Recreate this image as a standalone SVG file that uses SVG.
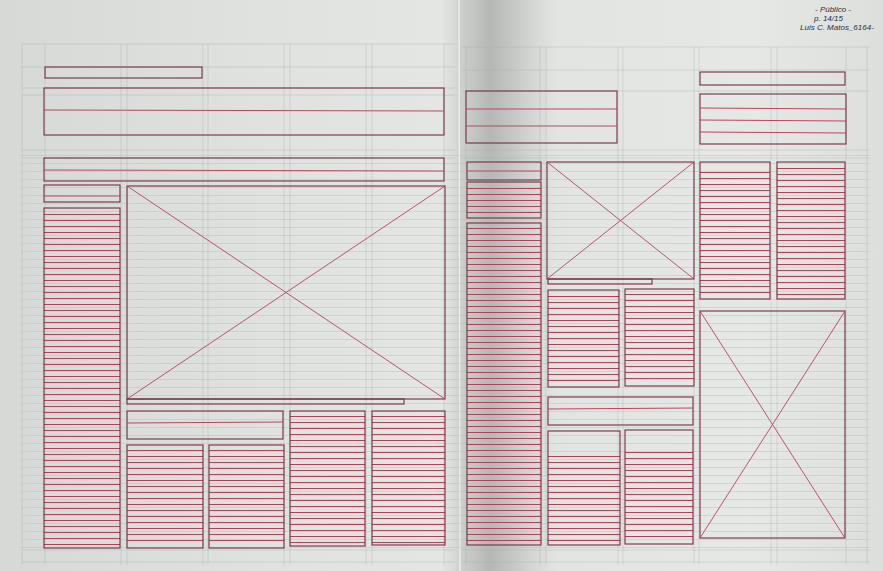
<svg xmlns="http://www.w3.org/2000/svg" width="883" height="571" viewBox="0 0 883 571">
<defs>
<linearGradient id="paper" x1="0" y1="0" x2="1" y2="0">
<stop offset="0" stop-color="#d6d9d6"/>
<stop offset="0.3" stop-color="#dfe2df"/>
<stop offset="0.5" stop-color="#e4e6e4"/>
<stop offset="0.52" stop-color="#d2d5d2"/>
<stop offset="0.6" stop-color="#e2e4e2"/>
<stop offset="0.85" stop-color="#e6e8e6"/>
<stop offset="1" stop-color="#dcdfdc"/>
</linearGradient>
<linearGradient id="fold" x1="0" y1="0" x2="1" y2="0">
<stop offset="0" stop-color="#7e827f" stop-opacity="0"/>
<stop offset="0.35" stop-color="#7e827f" stop-opacity="0.4"/>
<stop offset="1" stop-color="#7e827f" stop-opacity="0"/>
</linearGradient>
<pattern id="rule" width="20" height="8" patternUnits="userSpaceOnUse">
<rect x="0" y="3" width="20" height="1" fill="#b9bebb"/>
</pattern>
<style>
.g{stroke:#a4a9a6;stroke-width:0.6;fill:none;opacity:0.55}
.b{fill:none;stroke:#742f41;stroke-width:1.1}
.l{stroke:#b8485e;stroke-width:1;fill:none}
.tl{stroke:#b04358;stroke-dasharray:1 5;stroke-dashoffset:-5;fill:none}
.x{stroke:#b0485c;stroke-width:0.9}
.h{font-family:"Liberation Sans",sans-serif;font-style:italic;font-size:8px;fill:#2a3040}
</style>
</defs>
<rect width="883" height="571" fill="url(#paper)"/>
<rect x="455" y="0" width="100" height="571" fill="url(#fold)"/>
<line x1="459" y1="0" x2="460" y2="571" stroke="#f2f3f2" stroke-width="1.2"/>
<rect x="22" y="150" width="848" height="400" fill="url(#rule)" opacity="0.45"/>
<g id="guides">
<path class="g" d="M22 44V565M45 44V565M121 44V565M127 44V565M203 44V565M208 44V565M284 44V565M290 44V565M366 44V565M372 44V565M444 44V565"/>
<path class="g" d="M466 47V565M540 47V565M546 47V565M618 47V565M623 47V565M694 47V565M699 47V565M771 47V565M777 47V565M846 47V565M867 47V565"/>
<path class="g" d="M22 44H455M22 67H455M22 88H455M22 95H455M22 150H455M22 158H455M22 550H455M22 562H455"/>
<path class="g" d="M462 47H870M462 70H870M462 91H870M462 150H870M462 158H870M462 550H870M462 562H870"/>
</g>
<g id="left-kicker"><rect class="b" x="45" y="67" width="157" height="11"/></g>
<g id="left-headline"><rect class="b" x="44" y="88" width="400" height="47"/><line class="l" x1="44" y1="110" x2="444" y2="111"/></g>
<g id="left-subhead"><rect class="b" x="44" y="158" width="400" height="23"/><line class="l" x1="44" y1="170" x2="444" y2="171"/></g>
<g id="left-col-head"><rect class="b" x="44" y="185" width="76" height="17"/><line class="l" x1="44" y1="196" x2="120" y2="196"/></g>
<g id="left-col-text"><line class="tl" x1="82" y1="209" x2="82" y2="546" stroke-width="76"/><rect class="b" x="44" y="208" width="76" height="340"/></g>
<g id="left-image"><rect class="b" x="127" y="186" width="318" height="213"/><line class="x" x1="127" y1="186" x2="445" y2="399"/><line class="x" x1="445" y1="186" x2="127" y2="399"/></g>
<g id="left-caption"><rect class="b" x="127" y="399" width="277" height="5"/></g>
<g id="left-story-head"><rect class="b" x="127" y="411" width="156" height="28"/><line class="l" x1="127" y1="423" x2="283" y2="422"/></g>
<g id="left-text-1"><line class="tl" x1="165" y1="445" x2="165" y2="546" stroke-width="76"/><rect class="b" x="127" y="445" width="76" height="103"/></g>
<g id="left-text-2"><line class="tl" x1="246.5" y1="445" x2="246.5" y2="546" stroke-width="75"/><rect class="b" x="209" y="445" width="75" height="103"/></g>
<g id="left-text-3"><line class="tl" x1="327.5" y1="411" x2="327.5" y2="544" stroke-width="75"/><rect class="b" x="290" y="411" width="75" height="135"/></g>
<g id="left-text-4"><line class="tl" x1="408.5" y1="411" x2="408.5" y2="543" stroke-width="73"/><rect class="b" x="372" y="411" width="73" height="134"/></g>
<g id="right-headline"><rect class="b" x="466" y="91" width="151" height="52"/><line class="l" x1="466" y1="109" x2="617" y2="109"/><line class="l" x1="466" y1="126" x2="617" y2="126"/></g>
<g id="right-kicker"><rect class="b" x="700" y="72" width="145" height="13"/></g>
<g id="right-block"><rect class="b" x="700" y="94" width="146" height="50"/><line class="l" x1="700" y1="108" x2="846" y2="109"/><line class="l" x1="700" y1="120" x2="846" y2="121"/><line class="l" x1="700" y1="132" x2="846" y2="133"/></g>
<g id="right-col-head"><rect class="b" x="467" y="162" width="74" height="18"/><line class="l" x1="467" y1="171" x2="541" y2="171"/></g>
<g id="right-col-sub"><line class="tl" x1="504" y1="183" x2="504" y2="216" stroke-width="74"/><rect class="b" x="467" y="182" width="74" height="36"/></g>
<g id="right-col-text"><line class="tl" x1="504" y1="223" x2="504" y2="543" stroke-width="74"/><rect class="b" x="467" y="223" width="74" height="322"/></g>
<g id="right-image-1"><rect class="b" x="547" y="162" width="147" height="117"/><line class="x" x1="547" y1="162" x2="694" y2="279"/><line class="x" x1="694" y1="162" x2="547" y2="279"/></g>
<g id="right-caption"><rect class="b" x="548" y="279" width="104" height="5"/></g>
<g id="right-text-a"><line class="tl" x1="583.5" y1="291" x2="583.5" y2="385" stroke-width="71"/><rect class="b" x="548" y="290" width="71" height="97"/></g>
<g id="right-text-b"><line class="tl" x1="659.5" y1="289" x2="659.5" y2="384" stroke-width="69"/><rect class="b" x="625" y="289" width="69" height="97"/></g>
<g id="right-story-head"><rect class="b" x="548" y="397" width="145" height="28"/><line class="l" x1="548" y1="409" x2="693" y2="408"/></g>
<g id="right-text-c"><line class="tl" x1="584" y1="451" x2="584" y2="543" stroke-width="72"/><rect class="b" x="548" y="431" width="72" height="114"/></g>
<g id="right-text-d"><line class="tl" x1="659" y1="447" x2="659" y2="542" stroke-width="68"/><rect class="b" x="625" y="430" width="68" height="114"/></g>
<g id="right-text-e"><line class="tl" x1="735" y1="167" x2="735" y2="297" stroke-width="70"/><rect class="b" x="700" y="162" width="70" height="137"/></g>
<g id="right-text-f"><line class="tl" x1="811" y1="163" x2="811" y2="297" stroke-width="68"/><rect class="b" x="777" y="162" width="68" height="137"/></g>
<g id="right-image-2"><rect class="b" x="700" y="311" width="145" height="227"/><line class="x" x1="700" y1="311" x2="845" y2="538"/><line class="x" x1="845" y1="311" x2="700" y2="538"/></g>
<g id="note">
<text class="h" x="815" y="12">- Público -</text>
<text class="h" x="814" y="21">p. 14/15</text>
<text class="h" x="800" y="30">Luis C. Matos_6164-</text>
</g>
</svg>
